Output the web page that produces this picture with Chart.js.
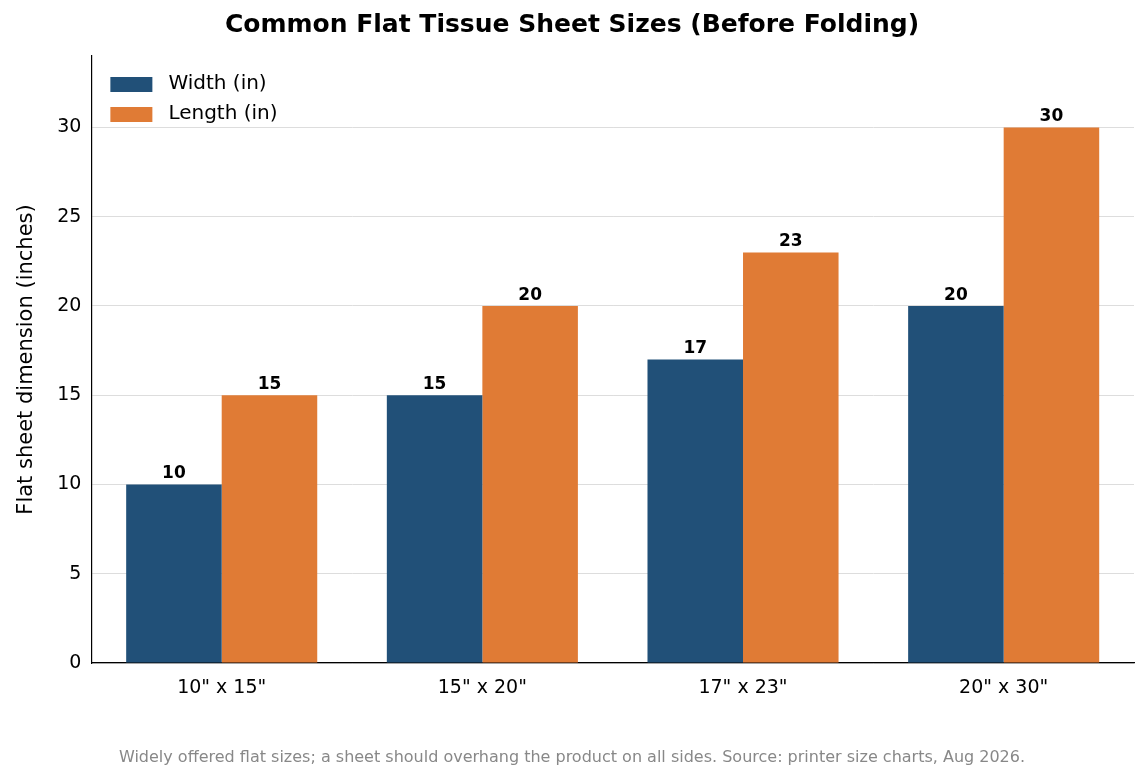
<!DOCTYPE html>
<html>
<head>
<meta charset="utf-8">
<script src="https://cdn.jsdelivr.net/npm/chart.js@4/dist/chart.umd.min.js"></script>
<style>
  html, body { margin: 0; background: #fff; }
  #wrap { width: 1148px; height: 781px; }
</style>
</head>
<body>
<div id="wrap"><canvas id="c"></canvas></div>
<script>
const categories = ['10" x 15"', '15" x 20"', '17" x 23"', '20" x 30"'];
const widths = [10, 15, 17, 20];
const lengths = [15, 20, 23, 30];
const yTicks = [0, 5, 10, 15, 20, 25, 30];

const FONT = "'DejaVu Sans', sans-serif";

// value labels above bars
const barLabels = {
    id: 'barLabels',
    afterDatasetsDraw(chart) {
        const ctx = chart.ctx;
        ctx.save();
        ctx.font = 'bold 17px ' + FONT;
        ctx.fillStyle = '#000';
        ctx.textAlign = 'center';
        ctx.textBaseline = 'bottom';
        chart.data.datasets.forEach((ds, i) => {
            chart.getDatasetMeta(i).data.forEach((bar, j) => {
                ctx.fillText(ds.data[j], bar.x, bar.y - 2);
            });
        });
        ctx.restore();
    }
};

// legend box in upper left of plot
const cornerLegend = {
    id: 'cornerLegend',
    afterDraw(chart) {
        const ctx = chart.ctx;
        const a = chart.chartArea;
        ctx.save();
        ctx.font = '20px ' + FONT;
        ctx.textBaseline = 'middle';
        chart.data.datasets.forEach((ds, i) => {
            const y = a.top + 28 + i * 30;
            ctx.fillStyle = ds.backgroundColor;
            ctx.fillRect(a.left + 19, y - 7, 42, 15);
            ctx.fillStyle = '#000';
            ctx.fillText(ds.label, a.left + 77, y);
        });
        ctx.restore();
    }
};

new Chart(document.getElementById('c'), {
    type: 'bar',
    data: {
        labels: categories,
        datasets: [
            { label: 'Width (in)', data: widths, backgroundColor: '#215078' },
            { label: 'Length (in)', data: lengths, backgroundColor: '#e07b35' }
        ]
    },
    options: {
        responsive: true,
        maintainAspectRatio: false,
        animation: false,
        devicePixelRatio: 1,
        layout: { padding: { left: 10, right: 14, top: 0, bottom: 8 } },
        datasets: { bar: { barPercentage: 1, categoryPercentage: 0.733 } },
        plugins: {
            legend: { display: false },
            tooltip: { enabled: false },
            title: {
                display: true,
                text: 'Common Flat Tissue Sheet Sizes (Before Folding)',
                color: '#000',
                font: { family: FONT, size: 25, weight: 'bold' },
                padding: { top: 10, bottom: 16 }
            },
            subtitle: {
                display: true,
                position: 'bottom',
                text: 'Widely offered flat sizes; a sheet should overhang the product on all sides. Source: printer size charts, Aug 2026.',
                color: '#888',
                font: { family: FONT, size: 16 },
                padding: { top: 42, bottom: 6 }
            }
        },
        scales: {
            x: {
                grid: { display: false, drawTicks: true },
                border: { color: '#000', width: 1.2 },
                ticks: { color: '#000', font: { family: FONT, size: 19 }, padding: 6 }
            },
            y: {
                min: 0,
                max: 34,
                afterBuildTicks(axis) { axis.ticks = yTicks.map(v => ({ value: v })); },
                grid: { color: '#dddddd', drawTicks: false },
                border: { color: '#000', width: 1.2 },
                ticks: { color: '#000', font: { family: FONT, size: 19 }, padding: 10 },
                title: {
                    display: true,
                    text: 'Flat sheet dimension (inches)',
                    color: '#000',
                    font: { family: FONT, size: 21 },
                    padding: { bottom: 8 }
                }
            }
        }
    },
    plugins: [barLabels, cornerLegend]
});
</script>
</body>
</html>
